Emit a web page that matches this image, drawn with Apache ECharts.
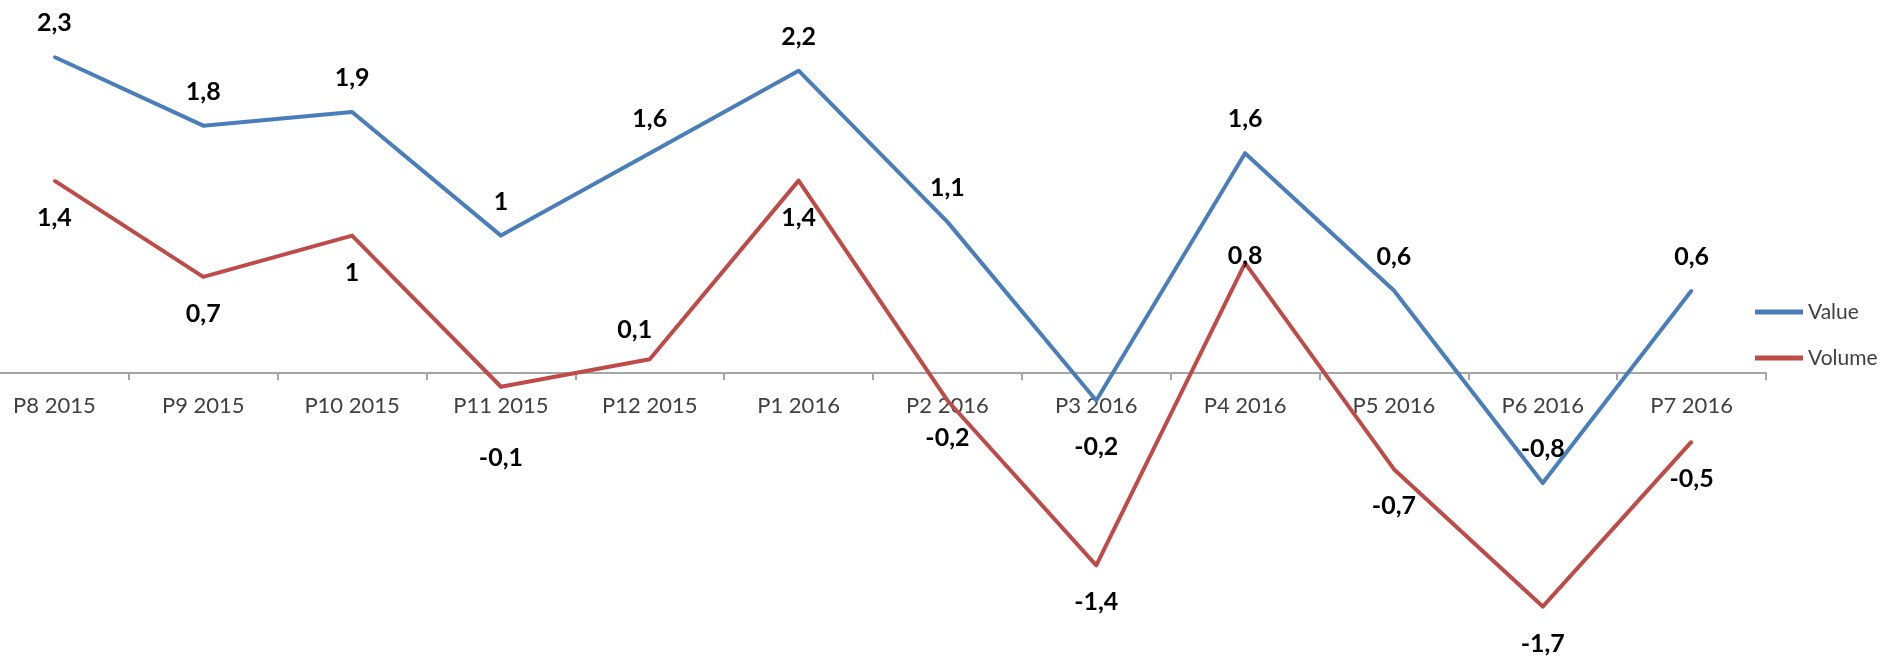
<!DOCTYPE html>
<html>
<head>
<meta charset="utf-8">
<script src="https://cdn.jsdelivr.net/npm/echarts@6/dist/echarts.min.js"></script>
<style>
  html, body { margin: 0; padding: 0; background: #fff; }
  #chart { width: 1883px; height: 656px; }
</style>
</head>
<body>
<div id="chart"></div>
<script>
const categories = ["P8 2015", "P9 2015", "P10 2015", "P11 2015", "P12 2015", "P1 2016",
  "P2 2016", "P3 2016", "P4 2016", "P5 2016", "P6 2016", "P7 2016"];
const valueSeries = [2.3, 1.8, 1.9, 1, 1.6, 2.2, 1.1, -0.2, 1.6, 0.6, -0.8, 0.6];
const volumeSeries = [1.4, 0.7, 1, -0.1, 0.1, 1.4, -0.2, -1.4, 0.8, -0.7, -1.7, -0.5];

// labels that were nudged by hand in the original
const valueLabelTweaks = {
  7: { position: "bottom", distance: 32 },
};
const volumeLabelTweaks = {
  3: { position: "bottom", distance: 57 },
  4: { position: "top", distance: 15, offset: [-15, 0] },
  8: { position: "top", distance: 0, offset: [0, 7] },
};

const fmt = (p) => String(p.value).replace(".", ",");

function withTweaks(values, tweaks) {
  return values.map((v, i) => (tweaks[i] ? { value: v, label: tweaks[i] } : v));
}

const labelStyle = {
  show: true,
  formatter: fmt,
  fontFamily: "Lato",
  fontWeight: "bold",
  fontSize: 25,
  lineHeight: 25,
  color: "#000",
};

const yMin = -2;
const yMax = 2.5;
const gridTop = 29.5;
const gridBottom = 8.2;
// move the category axis up to the zero line, labels and ticks with it
const plotH = 656 - gridTop - gridBottom;
const zeroOffset = -plotH * (0 - yMin) / (yMax - yMin);

const chart = echarts.init(document.getElementById("chart"));
chart.setOption({
  animation: false,
  backgroundColor: "#fff",
  grid: { left: -20, right: 117, top: gridTop, bottom: gridBottom, outerBoundsMode: "none" },
  legend: {
    orient: "vertical",
    left: 1750,
    top: 295,
    itemGap: 22,
    itemWidth: 48,
    itemHeight: 5,
    icon: "rect",
    textStyle: { fontFamily: "Lato", fontSize: 21, lineHeight: 24, color: "#404040" },
    data: ["Value", "Volume"],
  },
  xAxis: {
    type: "category",
    data: categories,
    offset: zeroOffset,
    axisLine: { onZero: false, lineStyle: { color: "#a6a6a6", width: 2 } },
    axisTick: { show: true, length: 7, lineStyle: { color: "#a6a6a6", width: 2 } },
    axisLabel: {
      interval: 0,
      margin: 22,
      fontFamily: "Lato",
      fontSize: 22,
      lineHeight: 22,
      color: "#404040",
    },
  },
  yAxis: {
    type: "value",
    min: yMin,
    max: yMax,
    show: false,
  },
  series: [
    {
      name: "Value",
      type: "line",
      data: withTweaks(valueSeries, valueLabelTweaks),
      color: "#4a7ebb",
      symbol: "circle",
      symbolSize: 3,
      lineStyle: { width: 4, join: "round" },
      label: { ...labelStyle, position: "top", distance: 20 },
    },
    {
      name: "Volume",
      type: "line",
      data: withTweaks(volumeSeries, volumeLabelTweaks),
      color: "#be4b48",
      symbol: "circle",
      symbolSize: 3,
      lineStyle: { width: 4, join: "round" },
      label: { ...labelStyle, position: "bottom", distance: 23 },
    },
  ],
});
</script>
</body>
</html>
